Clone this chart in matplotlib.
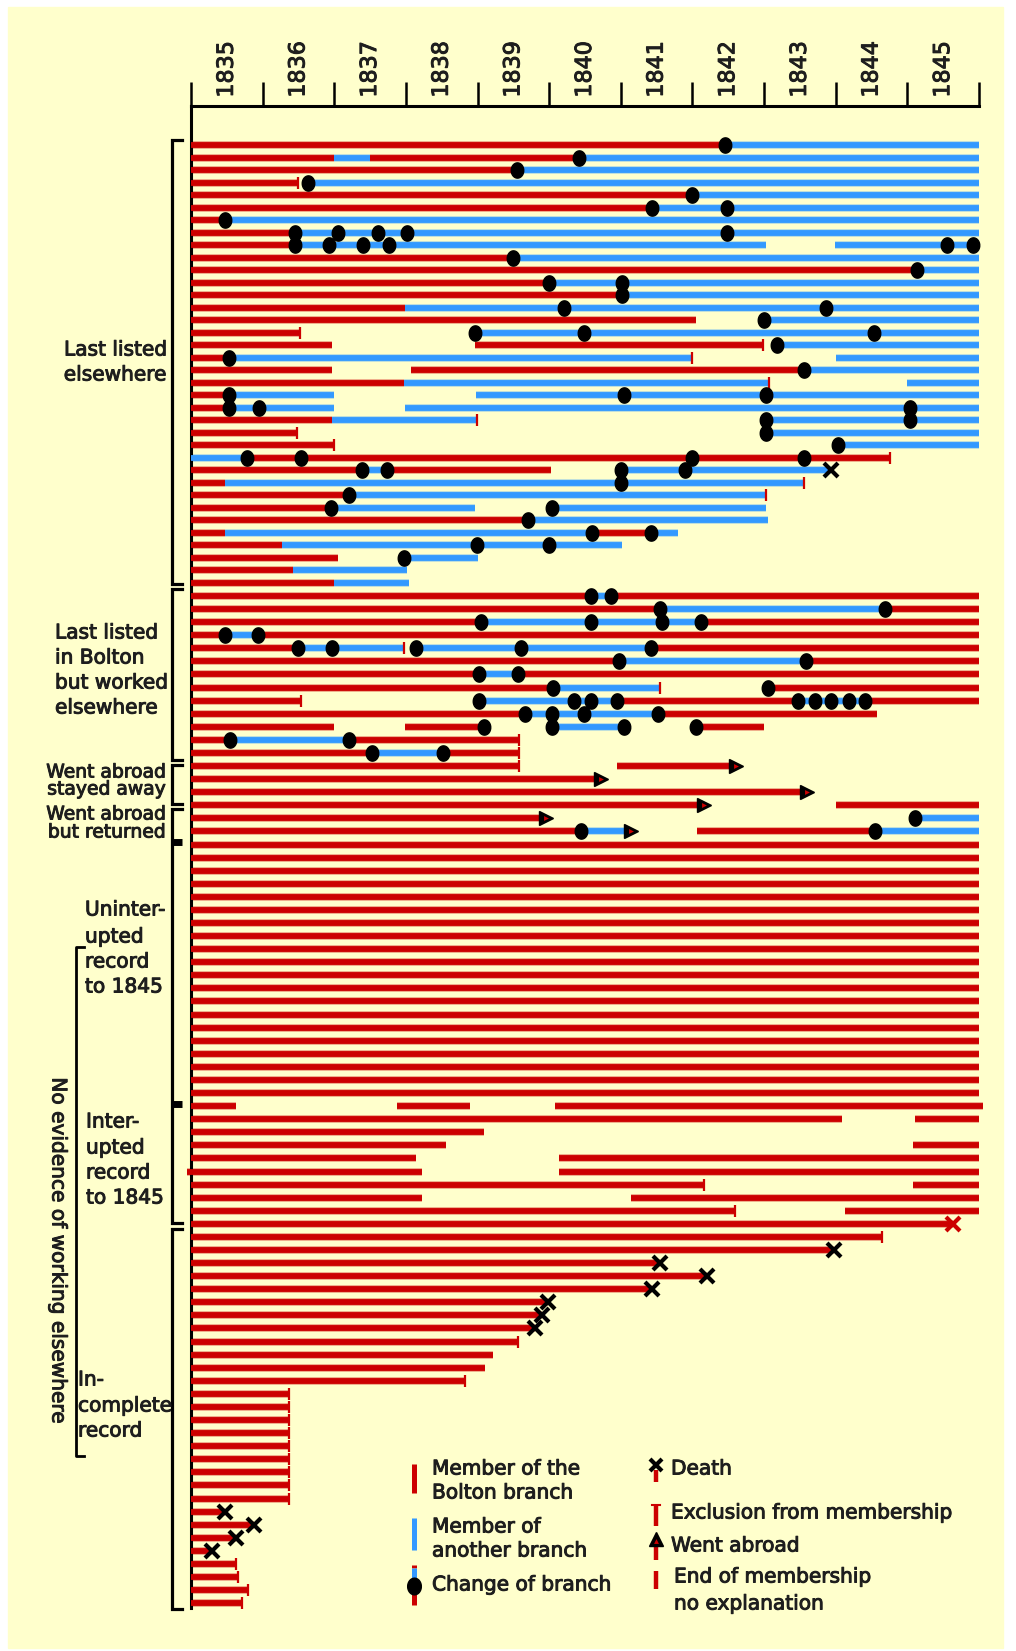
import numpy as np
import matplotlib.pyplot as plt
import matplotlib.patheffects as pe

RED = '#cc0000'
BLUE = '#3399ff'
CREAM = '#ffffcc'
INK = '#1e1e1e'

years = list(range(1835, 1846))

# Membership periods in the Bolton branch: (row, start, end)
bolton_segments = [
    (1, 1835, 1842.46), (2, 1835, 1837.0), (2, 1837.5, 1840.42), (3, 1835, 1839.55),
    (4, 1835, 1836.49), (5, 1835, 1842.0), (6, 1835, 1841.44), (7, 1835, 1835.48),
    (8, 1835, 1836.45), (9, 1835, 1836.45), (10, 1835, 1839.49), (11, 1835, 1845.14),
    (12, 1835, 1840.0), (13, 1835, 1841.02), (14, 1835, 1837.99), (15, 1835, 1842.05),
    (16, 1835, 1836.52), (17, 1835, 1836.97), (17, 1838.96, 1842.99), (18, 1835, 1835.53),
    (19, 1835, 1836.97), (19, 1838.07, 1843.56), (20, 1835, 1837.98), (21, 1835, 1835.53),
    (22, 1835, 1835.53), (23, 1835, 1836.97), (24, 1835, 1836.48), (25, 1835, 1837.0),
    (26, 1835.78, 1844.76), (27, 1835, 1837.39), (27, 1837.74, 1840.02), (28, 1835, 1835.48),
    (29, 1835, 1837.21), (30, 1835, 1836.95), (31, 1835, 1839.7), (32, 1835, 1835.48),
    (32, 1840.6, 1841.42), (33, 1835, 1836.27), (34, 1835, 1837.05), (35, 1835, 1836.42),
    (36, 1835, 1837.0),
    (37, 1835, 1840.58), (37, 1840.86, 1846), (38, 1835, 1841.55), (38, 1844.69, 1846),
    (39, 1835, 1839.05), (39, 1842.12, 1846), (40, 1835, 1835.48), (40, 1835.93, 1846),
    (41, 1835, 1836.5), (41, 1841.42, 1846), (42, 1835, 1840.98), (42, 1843.58, 1846),
    (43, 1835, 1839.02), (43, 1839.57, 1846), (44, 1835, 1840.05), (44, 1843.05, 1846),
    (45, 1835, 1836.53), (45, 1840.95, 1843.47), (45, 1844.41, 1846),
    (46, 1835, 1839.66), (46, 1841.52, 1844.57),
    (47, 1835, 1837.0), (47, 1837.99, 1839.09), (47, 1842.05, 1843.0),
    (48, 1835, 1835.55), (48, 1837.2, 1839.58), (49, 1835, 1837.52), (49, 1838.52, 1839.58),
    (50, 1835, 1839.58), (50, 1840.95, 1842.61), (51, 1835, 1840.72), (52, 1835, 1843.6),
    (53, 1835, 1842.16), (53, 1844.01, 1846), (54, 1835, 1839.96),
    (55, 1835, 1840.44), (55, 1842.07, 1844.55),
    (76, 1835, 1835.63), (76, 1837.88, 1838.9), (76, 1840.08, 1846.05),
    (77, 1835, 1844.09), (77, 1845.11, 1846), (78, 1835, 1839.09),
    (79, 1835, 1838.56), (79, 1845.08, 1846), (80, 1835, 1838.14), (80, 1840.14, 1846),
    (81, 1834.95, 1838.22), (81, 1840.14, 1846), (82, 1835, 1842.16), (82, 1845.08, 1846),
    (83, 1835, 1838.22), (83, 1841.14, 1846), (84, 1835, 1842.6), (84, 1844.13, 1846),
]

# rows with an uninterrupted record to 1845
uninterrupted_rows = list(range(56, 76))

# rows 85-114, incomplete record: year the record ends
incomplete_ends = [1845.64, 1844.64, 1843.98, 1841.55, 1842.2, 1841.44, 1839.98, 1839.9,
                   1839.8, 1839.57, 1839.21, 1839.1, 1838.82,
                   1836.37, 1836.37, 1836.37, 1836.37, 1836.37, 1836.37, 1836.37, 1836.37,
                   1836.37, 1835.47, 1835.88, 1835.63, 1835.3, 1835.63, 1835.66, 1835.8,
                   1835.71]

# Membership of another branch: (row, start, end)
other_segments = [
    (1, 1842.46, 1846), (2, 1837.0, 1837.5), (2, 1840.42, 1846), (3, 1839.55, 1846),
    (4, 1836.64, 1846), (5, 1842.0, 1846), (6, 1841.44, 1846), (7, 1835.48, 1846),
    (8, 1836.45, 1846), (9, 1836.45, 1843.03), (9, 1843.99, 1846), (10, 1839.49, 1846),
    (11, 1845.14, 1846), (12, 1840.0, 1846), (13, 1841.02, 1846), (14, 1837.99, 1846),
    (15, 1843.0, 1846), (16, 1838.96, 1846), (17, 1843.18, 1846),
    (18, 1835.53, 1842.0), (18, 1844.0, 1846), (19, 1843.56, 1846),
    (20, 1837.98, 1843.07), (20, 1845.0, 1846), (21, 1835.53, 1837.0), (21, 1838.98, 1846),
    (22, 1835.53, 1837.0), (22, 1837.99, 1846), (23, 1836.97, 1838.99), (23, 1843.02, 1846),
    (24, 1843.02, 1846), (25, 1844.03, 1846), (26, 1835, 1835.78),
    (27, 1837.39, 1837.74), (27, 1841.0, 1843.94), (28, 1835.48, 1843.56),
    (29, 1837.21, 1843.03), (30, 1836.95, 1838.96), (30, 1840.04, 1843.03),
    (31, 1839.7, 1843.05), (32, 1835.48, 1840.6), (32, 1841.42, 1841.8),
    (33, 1836.27, 1841.02), (34, 1837.98, 1839.0), (35, 1836.42, 1838.02),
    (36, 1837.0, 1838.04),
    (37, 1840.58, 1840.86), (38, 1841.55, 1844.69), (39, 1839.05, 1842.12),
    (40, 1835.48, 1835.93), (41, 1836.5, 1837.97), (41, 1838.14, 1841.42),
    (42, 1840.98, 1843.58), (43, 1839.02, 1839.57), (44, 1840.05, 1841.54),
    (45, 1839.02, 1840.95), (45, 1843.47, 1844.41), (46, 1839.66, 1841.52),
    (47, 1840.04, 1841.04), (48, 1835.55, 1837.2), (49, 1837.52, 1838.52),
    (54, 1845.1, 1846), (55, 1840.44, 1841.14), (55, 1844.55, 1846),
]

# Change of branch: (row, year)
branch_changes = [
    (1, 1842.46), (2, 1840.42), (3, 1839.55), (4, 1836.64), (5, 1842.0),
    (6, 1841.44), (6, 1842.48), (7, 1835.48),
    (8, 1836.45), (8, 1837.05), (8, 1837.61), (8, 1838.02), (8, 1842.48),
    (9, 1836.45), (9, 1836.93), (9, 1837.4), (9, 1837.77), (9, 1845.55), (9, 1845.92),
    (10, 1839.49), (11, 1845.14), (12, 1840.0), (12, 1841.02), (13, 1841.02),
    (14, 1840.21), (14, 1843.86), (15, 1843.0), (16, 1838.96), (16, 1840.48), (16, 1844.54),
    (17, 1843.18), (18, 1835.53), (19, 1843.56),
    (21, 1835.53), (21, 1841.04), (21, 1843.02), (22, 1835.53), (22, 1835.95), (22, 1845.04),
    (23, 1843.02), (23, 1845.04), (24, 1843.02), (25, 1844.03),
    (26, 1835.78), (26, 1836.54), (26, 1842.0), (26, 1843.56),
    (27, 1837.39), (27, 1837.74), (27, 1841.0), (27, 1841.89), (28, 1841.0),
    (29, 1837.21), (30, 1836.95), (30, 1840.04), (31, 1839.7), (32, 1840.6), (32, 1841.42),
    (33, 1838.99), (33, 1840.0), (34, 1837.98),
    (37, 1840.58), (37, 1840.86), (38, 1841.55), (38, 1844.69),
    (39, 1839.05), (39, 1840.59), (39, 1841.57), (39, 1842.12), (40, 1835.48), (40, 1835.93),
    (41, 1836.5), (41, 1836.97), (41, 1838.14), (41, 1839.6), (41, 1841.42),
    (42, 1840.98), (42, 1843.58), (43, 1839.02), (43, 1839.57), (44, 1840.05), (44, 1843.05),
    (45, 1839.02), (45, 1840.34), (45, 1840.58), (45, 1840.95), (45, 1843.47), (45, 1843.71),
    (45, 1843.94), (45, 1844.18), (45, 1844.41),
    (46, 1839.66), (46, 1840.04), (46, 1840.48), (46, 1841.52),
    (47, 1839.09), (47, 1840.04), (47, 1841.04), (47, 1842.05),
    (48, 1835.55), (48, 1837.2), (49, 1837.52), (49, 1838.52), (54, 1845.1),
    (55, 1840.44), (55, 1844.55),
]

deaths = [(27, 1843.94), (85, 1845.64), (87, 1843.98), (88, 1841.55), (89, 1842.2),
          (90, 1841.44), (91, 1839.98), (92, 1839.9), (93, 1839.8), (107, 1835.47),
          (108, 1835.88), (109, 1835.63), (110, 1835.3)]
red_death_rows = [85]

exclusions = [(4, 1836.49), (16, 1836.52), (17, 1842.99), (18, 1842.0), (20, 1843.07),
              (23, 1838.99), (24, 1836.48), (25, 1837.0), (26, 1844.76), (28, 1843.56),
              (29, 1843.03), (41, 1837.97), (44, 1841.54), (45, 1836.53), (48, 1839.58),
              (49, 1839.58), (50, 1839.58), (82, 1842.16), (84, 1842.6), (86, 1844.64),
              (94, 1839.57), (97, 1838.82), (98, 1836.37), (99, 1836.37), (100, 1836.37),
              (101, 1836.37), (102, 1836.37), (103, 1836.37), (104, 1836.37), (105, 1836.37),
              (106, 1836.37), (111, 1835.63), (112, 1835.66), (113, 1835.8), (114, 1835.71)]

went_abroad = [(50, 1842.61), (51, 1840.72), (52, 1843.6), (53, 1842.16), (54, 1839.96),
               (55, 1841.14)]


def row_y(r):
    # vertical position of a row, in figure pixels from the top
    if r <= 36:
        return 145.5 + 12.5 * (r - 1)
    return 596 + 13.08 * (r - 37)


W, H = 1016, 1651
fig = plt.figure(figsize=(W / 100, H / 100), dpi=100)
fig.patch.set_facecolor('white')

# slightly heavier text, like the scanned original
heavy = [pe.withStroke(linewidth=0.7, foreground=INK)]

# overlay axes in pixel units for background, brackets and legend
ov = fig.add_axes([0, 0, 1, 1])
ov.set_xlim(0, W)
ov.set_ylim(H, 0)
ov.axis('off')
ov.add_patch(plt.Rectangle((8, 7), 995, 1641, color=CREAM, zorder=0))

ax = fig.add_axes([191 / W, 1 - 1608 / H, (979 - 191) / W, (1608 - 106) / H])
ax.set_facecolor('none')
ax.set_xlim(1835, 1846)
ax.set_ylim(1608, 106)

segs_red = list(bolton_segments)
segs_red += [(r, 1835, 1846) for r in uninterrupted_rows]
segs_red += [(85 + i, 1835, e) for i, e in enumerate(incomplete_ends)]


def draw_segments(segs, color):
    ys = [row_y(r) for r, _, _ in segs]
    x0 = [s for _, s, _ in segs]
    x1 = [e for _, _, e in segs]
    ax.hlines(ys, x0, x1, colors=color, lw=5.6, alpha=0.35, capstyle='butt',
              clip_on=False, zorder=2)
    ax.hlines(ys, x0, x1, colors=color, lw=4.2, capstyle='butt', clip_on=False, zorder=3)


draw_segments(segs_red, RED)
draw_segments(other_segments, BLUE)

ex = [e for _, e in exclusions]
ey = [row_y(r) for r, _ in exclusions]
ax.plot(ex, ey, ls='none', marker='|', ms=9, mew=1.6, color=RED, clip_on=False, zorder=4)

t = np.linspace(0, 2 * np.pi, 40)
ellipse = list(zip(0.82 * np.cos(t), np.sin(t)))
cx = [x for _, x in branch_changes]
cy = [row_y(r) for r, _ in branch_changes]
ax.plot(cx, cy, ls='none', marker=ellipse, ms=11, color='black', clip_on=False, zorder=5)

for r, x in deaths:
    col = RED if r in red_death_rows else 'black'
    ax.plot(x, row_y(r), marker='x', ms=10, mew=3, color=col, clip_on=False, zorder=6)

for r, x in went_abroad:
    ax.plot(x, row_y(r), marker='>', ms=10, color='black', clip_on=False, zorder=6)
    ax.plot(x, row_y(r), marker='>', ms=3.5, color=RED, mew=0, clip_on=False, zorder=7)

# top year axis
for side in ['right', 'bottom']:
    ax.spines[side].set_visible(False)
for side in ['top', 'left']:
    ax.spines[side].set_linewidth(2.2)
ax.set_yticks([])
ax.xaxis.tick_top()
ax.set_xticks(np.arange(1835, 1847))
ax.set_xticklabels([])
ax.set_xticks(np.arange(1835.5, 1846), minor=True)
ax.set_xticklabels([str(y) for y in years], minor=True, rotation=90, fontsize=16, color=INK)
for lab in ax.get_xticklabels(minor=True):
    lab.set_path_effects(heavy)
ax.tick_params(axis='x', which='major', length=17, width=1.8, direction='out',
               top=True, bottom=False)
ax.tick_params(axis='x', which='minor', length=0, pad=6, top=True, bottom=False,
               labeltop=True, labelbottom=False)

# brackets on the left
BX, BT = 172, 182
lw_b = 2.3


def bracket(y0, y1):
    ov.plot([BT, BX, BX, BT], [y0, y0, y1, y1], color='black', lw=lw_b,
            solid_joinstyle='miter', zorder=3)


bracket(140, 584)
bracket(589, 760)
bracket(765, 804)
bracket(809, 1223)
bracket(1229, 1609)
for yj in [842, 1104]:
    ov.plot([BX, BT], [yj, yj], color='black', lw=5, solid_capstyle='butt', zorder=3)

ov.plot([84, 76, 76, 84], [947, 947, 1456, 1456], color='black', lw=2.0, zorder=3)
ov.text(58, 1251, 'No evidence of working elsewhere', rotation=270, ha='center',
        va='center', fontsize=14.5, color=INK, path_effects=heavy)

FS = 14.5
labels = [
    ('Last listed', 167, 350, 'right', FS), ('elsewhere', 167, 375, 'right', FS),
    ('Last listed', 55, 633, 'left', FS), ('in Bolton', 55, 658, 'left', FS),
    ('but worked', 55, 683, 'left', FS), ('elsewhere', 55, 708, 'left', FS),
    ('Went abroad', 166, 772, 'right', 13.5), ('stayed away', 166, 789, 'right', 13.5),
    ('Went abroad', 166, 814, 'right', 13.5), ('but returned', 166, 832, 'right', 13.5),
    ('Uninter-', 85, 910, 'left', FS), ('upted', 85, 937, 'left', FS),
    ('record', 85, 962, 'left', FS), ('to 1845', 85, 987, 'left', FS),
    ('Inter-', 86, 1122, 'left', FS), ('upted', 86, 1148, 'left', FS),
    ('record', 86, 1173, 'left', FS), ('to 1845', 86, 1198, 'left', FS),
    ('In-', 78, 1380, 'left', FS), ('complete', 78, 1406, 'left', FS),
    ('record', 78, 1431, 'left', FS),
]
for txt, x, y, ha, fs in labels:
    ov.text(x, y, txt, ha=ha, va='center', fontsize=fs, color=INK, zorder=4,
            path_effects=heavy)

# legend
LX = 414
ov.plot([LX, LX], [1464, 1493], color=RED, lw=3.6, solid_capstyle='butt')
ov.plot([LX, LX], [1518, 1550], color=BLUE, lw=3.6, solid_capstyle='butt')
ov.plot([LX, LX], [1565, 1568], color=RED, lw=3.6, solid_capstyle='butt')
ov.plot([LX, LX], [1568, 1586], color=BLUE, lw=3.6, solid_capstyle='butt')
ov.plot([LX, LX], [1586, 1605], color=RED, lw=3.6, solid_capstyle='butt')
ov.plot(LX, 1586, marker=ellipse, ms=12, color='black')
for txt, y in [('Member of the', 1469), ('Bolton branch', 1493), ('Member of', 1527),
               ('another branch', 1551), ('Change of branch', 1585)]:
    ov.text(432, y, txt, ha='left', va='center', fontsize=FS, color=INK, path_effects=heavy)

RX = 656
ov.plot([RX, RX], [1470, 1482], color=RED, lw=3.2, solid_capstyle='butt')
ov.plot(RX, 1465, marker='x', ms=9, mew=3, color='black')
ov.plot([RX, RX], [1505, 1526], color=RED, lw=3.2, solid_capstyle='butt')
ov.plot([RX - 4, RX + 4], [1505, 1505], color=RED, lw=1.5)
ov.plot([RX, RX], [1544, 1560], color=RED, lw=3.2, solid_capstyle='butt')
ov.plot(RX, 1539, marker='^', ms=10, color='black')
ov.plot(RX, 1541, marker='^', ms=3.5, color=RED, mew=0)
ov.plot([RX, RX], [1571, 1589], color=RED, lw=3.2, solid_capstyle='butt')
for txt, x, y in [('Death', 671, 1469), ('Exclusion from membership', 671, 1513),
                  ('Went abroad', 671, 1546), ('End of membership', 674, 1577),
                  ('no explanation', 674, 1604)]:
    ov.text(x, y, txt, ha='left', va='center', fontsize=FS, color=INK, path_effects=heavy)

fig.savefig('out.png', dpi=100)
